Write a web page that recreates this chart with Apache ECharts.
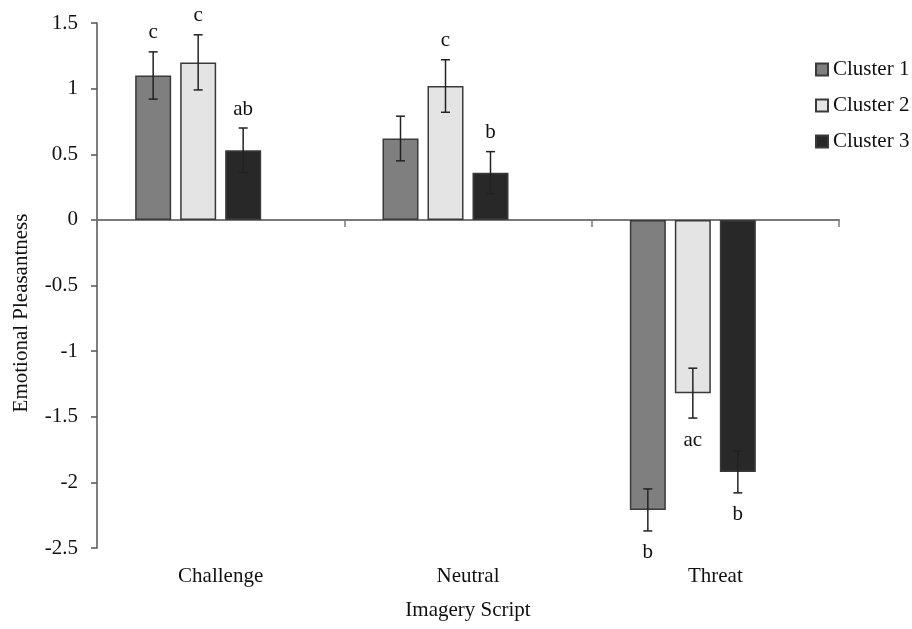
<!DOCTYPE html>
<html>
<head>
<meta charset="utf-8">
<script src="https://cdn.jsdelivr.net/npm/echarts@6/dist/echarts.min.js"></script>
<style>
  html, body { margin: 0; padding: 0; background: #fff; }
  #chart { width: 912px; height: 629px; }
</style>
</head>
<body>
<div id="chart"></div>
<script>
// Imagery scripts on the category axis
const categories = ['Challenge', 'Neutral', 'Threat'];

// Mean emotional pleasantness per cluster
const cluster1 = [1.10, 0.62, -2.21];
const cluster2 = [1.20, 1.02, -1.32];
const cluster3 = [0.53, 0.36, -1.92];

// Standard errors per cluster
const cluster1Err = [0.18, 0.17, 0.16];
const cluster2Err = [0.21, 0.20, 0.19];
const cluster3Err = [0.17, 0.16, 0.16];

// Significance letters per cluster
const cluster1Sig = ['c', '', 'b'];
const cluster2Sig = ['c', 'c', 'ac'];
const cluster3Sig = ['ab', 'b', 'b'];

const seriesNames = ['Cluster 1', 'Cluster 2', 'Cluster 3'];

// Y axis ticks
const yMin = -2.5, yMax = 1.5, yStep = 0.5;

const FONT = "'Liberation Serif', 'Times New Roman', serif";
const TEXT = '#111111';
const BAR_W = 36;
const BAR_GAP = 9;
const SLOTS = 4; // group reserves one empty slot on the right
const fills = ['#7f7f7f', '#e4e4e4', '#282828'];
const edge = '#3a3a3a';

const chart = echarts.init(document.getElementById('chart'));

const values = [cluster1, cluster2, cluster3];
const errs = [cluster1Err, cluster2Err, cluster3Err];
const sigs = [cluster1Sig, cluster2Sig, cluster3Sig];

function errorSeries(k) {
  return {
    type: 'custom',
    name: seriesNames[k] + ' SE',
    xAxisIndex: 0,
    z: 5,
    silent: true,
    data: values[k].map((v, i) => [i, v, errs[k][i]]),
    renderItem: function (params, api) {
      const i = api.value(0);
      const v = api.value(1);
      const e = api.value(2);
      const shift = (k - (SLOTS - 1) / 2) * (BAR_W + BAR_GAP);
      const top = api.coord([i, v + e]);
      const bot = api.coord([i, v - e]);
      const x = top[0] + shift;
      const cap = 4.5;
      const st = { stroke: '#222', lineWidth: 1.5 };
      const children = [
        { type: 'line', shape: { x1: x, y1: top[1], x2: x, y2: bot[1] }, style: st },
        { type: 'line', shape: { x1: x - cap, y1: top[1], x2: x + cap, y2: top[1] }, style: st },
        { type: 'line', shape: { x1: x - cap, y1: bot[1], x2: x + cap, y2: bot[1] }, style: st }
      ];
      const letter = sigs[k][i];
      if (letter) {
        const ty = v >= 0 ? top[1] - 19 : bot[1] + 22;
        children.push({
          type: 'text',
          style: {
            text: letter, x: x, y: ty, align: 'center', verticalAlign: 'middle',
            fill: TEXT, font: '21px ' + FONT
          }
        });
      }
      return { type: 'group', children: children };
    }
  };
}

const barSeries = values.map((arr, k) => ({
  type: 'bar',
  name: seriesNames[k],
  xAxisIndex: 0,
  data: arr,
  barWidth: BAR_W,
  barGap: (BAR_GAP / BAR_W * 100) + '%',
  itemStyle: { color: fills[k], borderColor: edge, borderWidth: 1.5 },
  emphasis: { disabled: true }
}));

// empty fourth slot so the three bars sit left of the category centre
barSeries.push({
  type: 'bar',
  name: 'slot',
  xAxisIndex: 0,
  data: categories.map(() => null),
  barWidth: BAR_W,
  barGap: (BAR_GAP / BAR_W * 100) + '%'
});

chart.setOption({
  animation: false,
  backgroundColor: '#ffffff',
  textStyle: { fontFamily: FONT, color: TEXT },
  grid: { left: 97, right: 73, top: 23, bottom: 81 },
  legend: {
    data: seriesNames,
    orient: 'vertical',
    left: 810,
    top: 54,
    itemWidth: 12,
    itemHeight: 12,
    itemGap: 15,
    icon: 'rect',
    selectedMode: false,
    textStyle: { fontFamily: FONT, fontSize: 21, color: TEXT }
  },
  xAxis: [
    {
      type: 'category',
      data: categories,
      axisLine: { onZero: true, lineStyle: { color: '#7a7a7a', width: 2 } },
      axisTick: { show: true, length: 7, lineStyle: { color: '#7a7a7a', width: 1.5 } },
      axisLabel: { show: false },
      splitLine: { show: false }
    },
    {
      type: 'category',
      data: categories,
      position: 'bottom',
      axisLine: { show: false },
      axisTick: { show: false },
      axisLabel: { fontFamily: FONT, fontSize: 21, color: TEXT, margin: 18 },
      name: 'Imagery Script',
      nameLocation: 'middle',
      nameGap: 52,
      nameTextStyle: { fontFamily: FONT, fontSize: 21, color: TEXT }
    }
  ],
  yAxis: {
    type: 'value',
    min: yMin,
    max: yMax,
    interval: yStep,
    axisLine: { show: true, lineStyle: { color: '#555', width: 1.5 } },
    axisTick: { show: true, length: 6, lineStyle: { color: '#555', width: 1.5 } },
    axisLabel: { fontFamily: FONT, fontSize: 21, color: TEXT, margin: 19 },
    splitLine: { show: false }
  },
  graphic: [
    {
      type: 'text',
      x: 21,
      y: 313,
      rotation: Math.PI / 2,
      style: {
        text: 'Emotional Pleasantness',
        align: 'center',
        verticalAlign: 'middle',
        fill: TEXT,
        font: '21px ' + FONT
      }
    }
  ],
  series: barSeries.concat([errorSeries(0), errorSeries(1), errorSeries(2)])
});
</script>
</body>
</html>
